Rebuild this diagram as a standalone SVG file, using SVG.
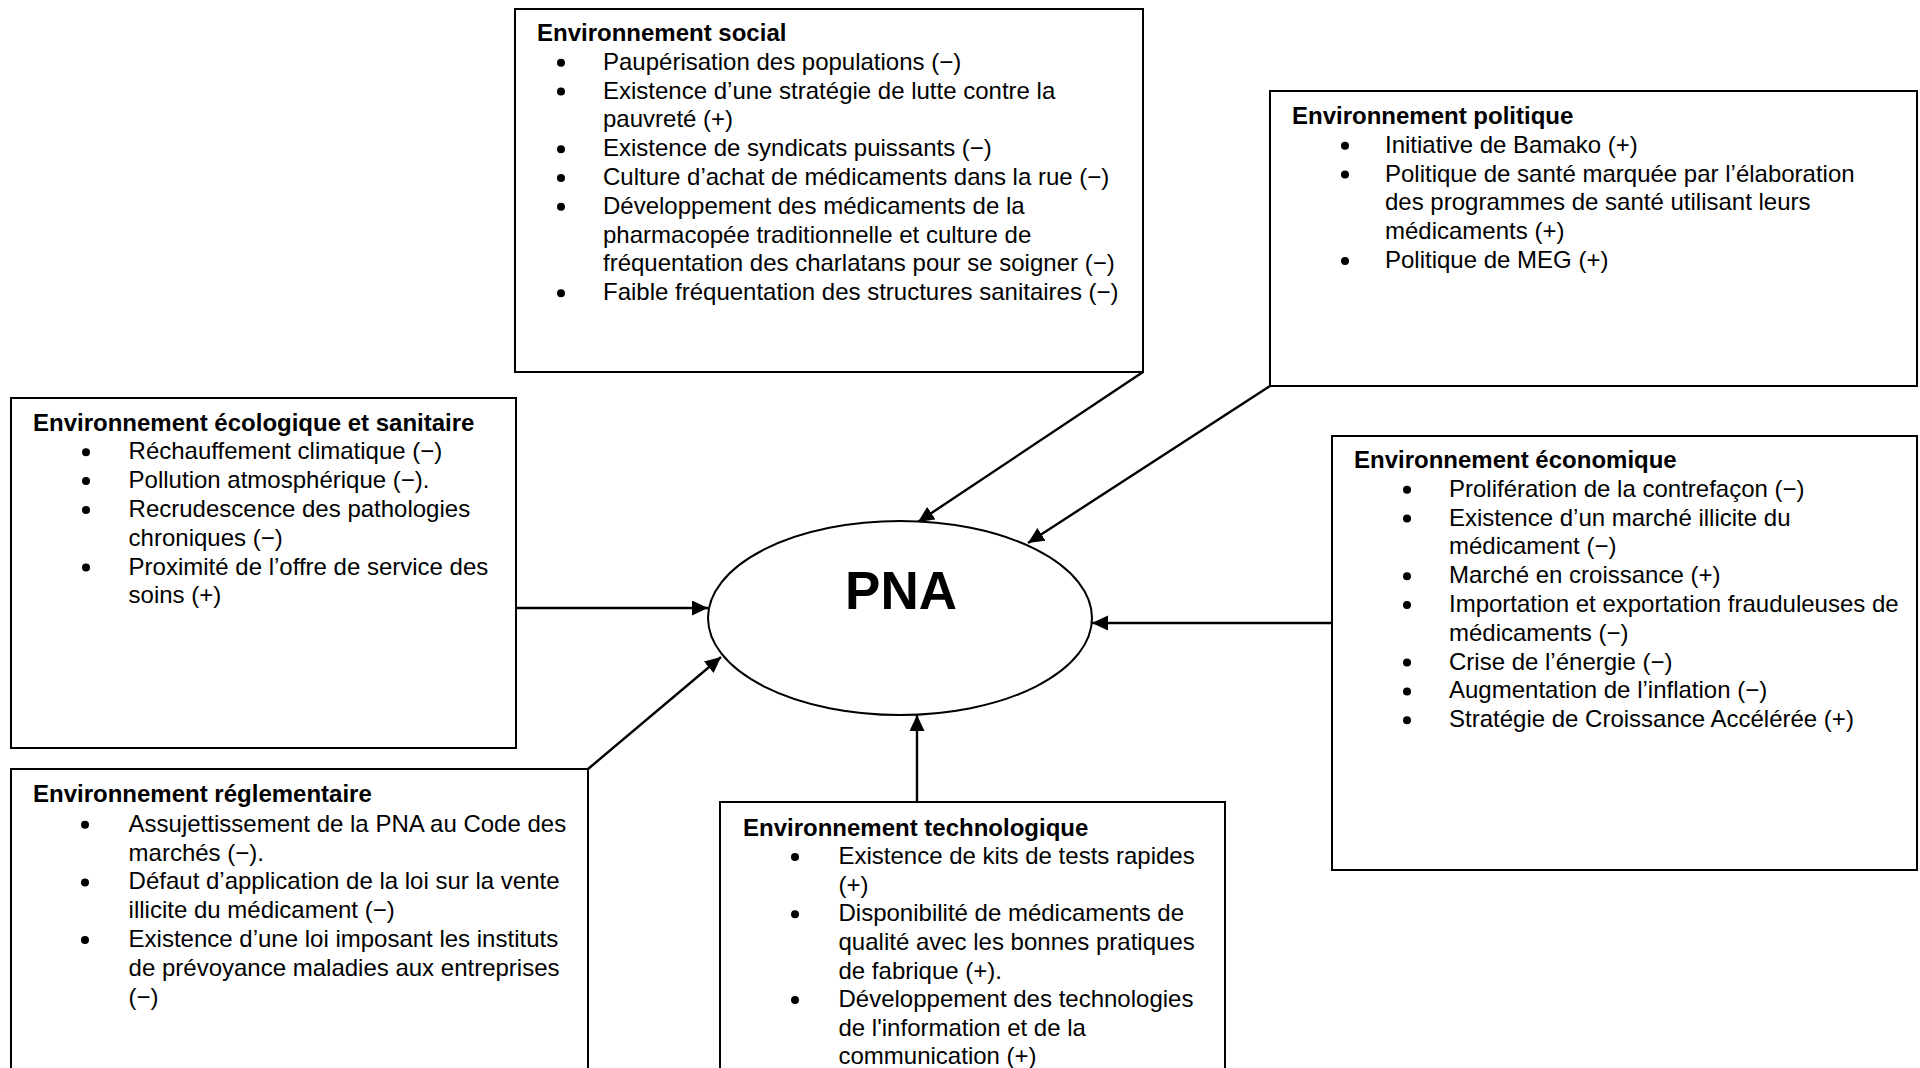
<svg xmlns="http://www.w3.org/2000/svg" width="1920" height="1068" viewBox="0 0 1920 1068">
<style>
  .box { fill: #ffffff; stroke: #000000; stroke-width: 2; }
  .t { font-family: "Liberation Sans", Arial, sans-serif; font-size: 24px; fill: #000000; }
  .h { font-weight: bold; }
  .b { fill: #000000; }
  .c { fill: none; stroke: #000000; stroke-width: 2.4; marker-end: url(#arr); }
  .pna { font-family: "Liberation Sans", Arial, sans-serif; font-size: 53px; font-weight: bold; fill: #000000; }
</style>
<defs>
  <marker id="arr" markerUnits="userSpaceOnUse" markerWidth="17" markerHeight="16" refX="16" refY="7.5" orient="auto">
    <path d="M0,0 L16,7.5 L0,15 z" fill="#000000"/>
  </marker>
</defs>
<rect width="1920" height="1068" fill="#ffffff"/>

<g id="connectors">
  <path class="c" d="M1143,372 L918,522"/>
  <path class="c" d="M1270,386 L1028,543"/>
  <path class="c" d="M516,608 L708,608"/>
  <path class="c" d="M588,769 L721,657"/>
  <path class="c" d="M917,802 L917,715"/>
  <path class="c" d="M1332,623 L1092,623"/>
</g>

<g id="pna">
  <ellipse cx="900" cy="618" rx="192" ry="97" fill="#ffffff" stroke="#000000" stroke-width="2"/>
  <text class="pna" x="901" y="609" text-anchor="middle">PNA</text>
</g>

<g id="env-social">
  <rect class="box" x="515" y="9" width="628" height="363"/>
  <text class="t h" x="537" y="41">Environnement social</text>
  <circle class="b" cx="561" cy="62.8" r="4"/>
  <circle class="b" cx="561" cy="91.6" r="4"/>
  <circle class="b" cx="561" cy="149.2" r="4"/>
  <circle class="b" cx="561" cy="178" r="4"/>
  <circle class="b" cx="561" cy="206.8" r="4"/>
  <circle class="b" cx="561" cy="293.2" r="4"/>
  <text class="t">
    <tspan x="603" y="69.8">Paupérisation des populations (−)</tspan>
    <tspan x="603" y="98.6">Existence d’une stratégie de lutte contre la</tspan>
    <tspan x="603" y="127.4">pauvreté (+)</tspan>
    <tspan x="603" y="156.2">Existence de syndicats puissants (−)</tspan>
    <tspan x="603" y="185">Culture d’achat de médicaments dans la rue (−)</tspan>
    <tspan x="603" y="213.8">Développement des médicaments de la</tspan>
    <tspan x="603" y="242.6">pharmacopée traditionnelle et culture de</tspan>
    <tspan x="603" y="271.4">fréquentation des charlatans pour se soigner (−)</tspan>
    <tspan x="603" y="300.2">Faible fréquentation des structures sanitaires (−)</tspan>
  </text>
</g>

<g id="env-politique">
  <rect class="box" x="1270" y="91" width="647" height="295"/>
  <text class="t h" x="1292" y="124">Environnement politique</text>
  <circle class="b" cx="1345" cy="145.8" r="4"/>
  <circle class="b" cx="1345" cy="174.6" r="4"/>
  <circle class="b" cx="1345" cy="261" r="4"/>
  <text class="t">
    <tspan x="1385" y="152.8">Initiative de Bamako (+)</tspan>
    <tspan x="1385" y="181.6">Politique de santé marquée par l’élaboration</tspan>
    <tspan x="1385" y="210.4">des programmes de santé utilisant leurs</tspan>
    <tspan x="1385" y="239.2">médicaments (+)</tspan>
    <tspan x="1385" y="268">Politique de MEG (+)</tspan>
  </text>
</g>

<g id="env-ecologique">
  <rect class="box" x="11" y="398" width="505" height="350"/>
  <text class="t h" x="33" y="430.5">Environnement écologique et sanitaire</text>
  <circle class="b" cx="86" cy="452.3" r="4"/>
  <circle class="b" cx="86" cy="481.1" r="4"/>
  <circle class="b" cx="86" cy="509.9" r="4"/>
  <circle class="b" cx="86" cy="567.5" r="4"/>
  <text class="t">
    <tspan x="128.6" y="459.3">Réchauffement climatique (−)</tspan>
    <tspan x="128.6" y="488.1">Pollution atmosphérique (−).</tspan>
    <tspan x="128.6" y="516.9">Recrudescence des pathologies</tspan>
    <tspan x="128.6" y="545.7">chroniques (−)</tspan>
    <tspan x="128.6" y="574.5">Proximité de l’offre de service des</tspan>
    <tspan x="128.6" y="603.3">soins (+)</tspan>
  </text>
</g>

<g id="env-economique">
  <rect class="box" x="1332" y="436" width="585" height="434"/>
  <text class="t h" x="1354" y="468">Environnement économique</text>
  <circle class="b" cx="1407" cy="489.8" r="4"/>
  <circle class="b" cx="1407" cy="518.6" r="4"/>
  <circle class="b" cx="1407" cy="576.2" r="4"/>
  <circle class="b" cx="1407" cy="605" r="4"/>
  <circle class="b" cx="1407" cy="662.6" r="4"/>
  <circle class="b" cx="1407" cy="691.4" r="4"/>
  <circle class="b" cx="1407" cy="720.2" r="4"/>
  <text class="t">
    <tspan x="1449" y="496.8">Prolifération de la contrefaçon (−)</tspan>
    <tspan x="1449" y="525.6">Existence d’un marché illicite du</tspan>
    <tspan x="1449" y="554.4">médicament (−)</tspan>
    <tspan x="1449" y="583.2">Marché en croissance (+)</tspan>
    <tspan x="1449" y="612">Importation et exportation frauduleuses de</tspan>
    <tspan x="1449" y="640.8">médicaments (−)</tspan>
    <tspan x="1449" y="669.6">Crise de l’énergie (−)</tspan>
    <tspan x="1449" y="698.4">Augmentation de l’inflation (−)</tspan>
    <tspan x="1449" y="727.2">Stratégie de Croissance Accélérée (+)</tspan>
  </text>
</g>

<g id="env-reglementaire">
  <rect class="box" x="11" y="769" width="577" height="400"/>
  <text class="t h" x="33" y="802">Environnement réglementaire</text>
  <circle class="b" cx="85" cy="824.8" r="4"/>
  <circle class="b" cx="85" cy="882.4" r="4"/>
  <circle class="b" cx="85" cy="940" r="4"/>
  <text class="t">
    <tspan x="128.6" y="831.8">Assujettissement de la PNA au Code des</tspan>
    <tspan x="128.6" y="860.6">marchés (−).</tspan>
    <tspan x="128.6" y="889.4">Défaut d’application de la loi sur la vente</tspan>
    <tspan x="128.6" y="918.2">illicite du médicament (−)</tspan>
    <tspan x="128.6" y="947">Existence d’une loi imposant les instituts</tspan>
    <tspan x="128.6" y="975.8">de prévoyance maladies aux entreprises</tspan>
    <tspan x="128.6" y="1004.6">(−)</tspan>
  </text>
</g>

<g id="env-technologique">
  <rect class="box" x="720" y="802" width="505" height="400"/>
  <text class="t h" x="743" y="835.5">Environnement technologique</text>
  <circle class="b" cx="795" cy="857.1" r="4"/>
  <circle class="b" cx="795" cy="914.3" r="4"/>
  <circle class="b" cx="795" cy="1000.1" r="4"/>
  <text class="t">
    <tspan x="838.5" y="864.1">Existence de kits de tests rapides</tspan>
    <tspan x="838.5" y="892.7">(+)</tspan>
    <tspan x="838.5" y="921.3">Disponibilité de médicaments de</tspan>
    <tspan x="838.5" y="949.9">qualité avec les bonnes pratiques</tspan>
    <tspan x="838.5" y="978.5">de fabrique (+).</tspan>
    <tspan x="838.5" y="1007.1">Développement des technologies</tspan>
    <tspan x="838.5" y="1035.7">de l'information et de la</tspan>
    <tspan x="838.5" y="1064.3">communication (+)</tspan>
  </text>
</g>
</svg>
